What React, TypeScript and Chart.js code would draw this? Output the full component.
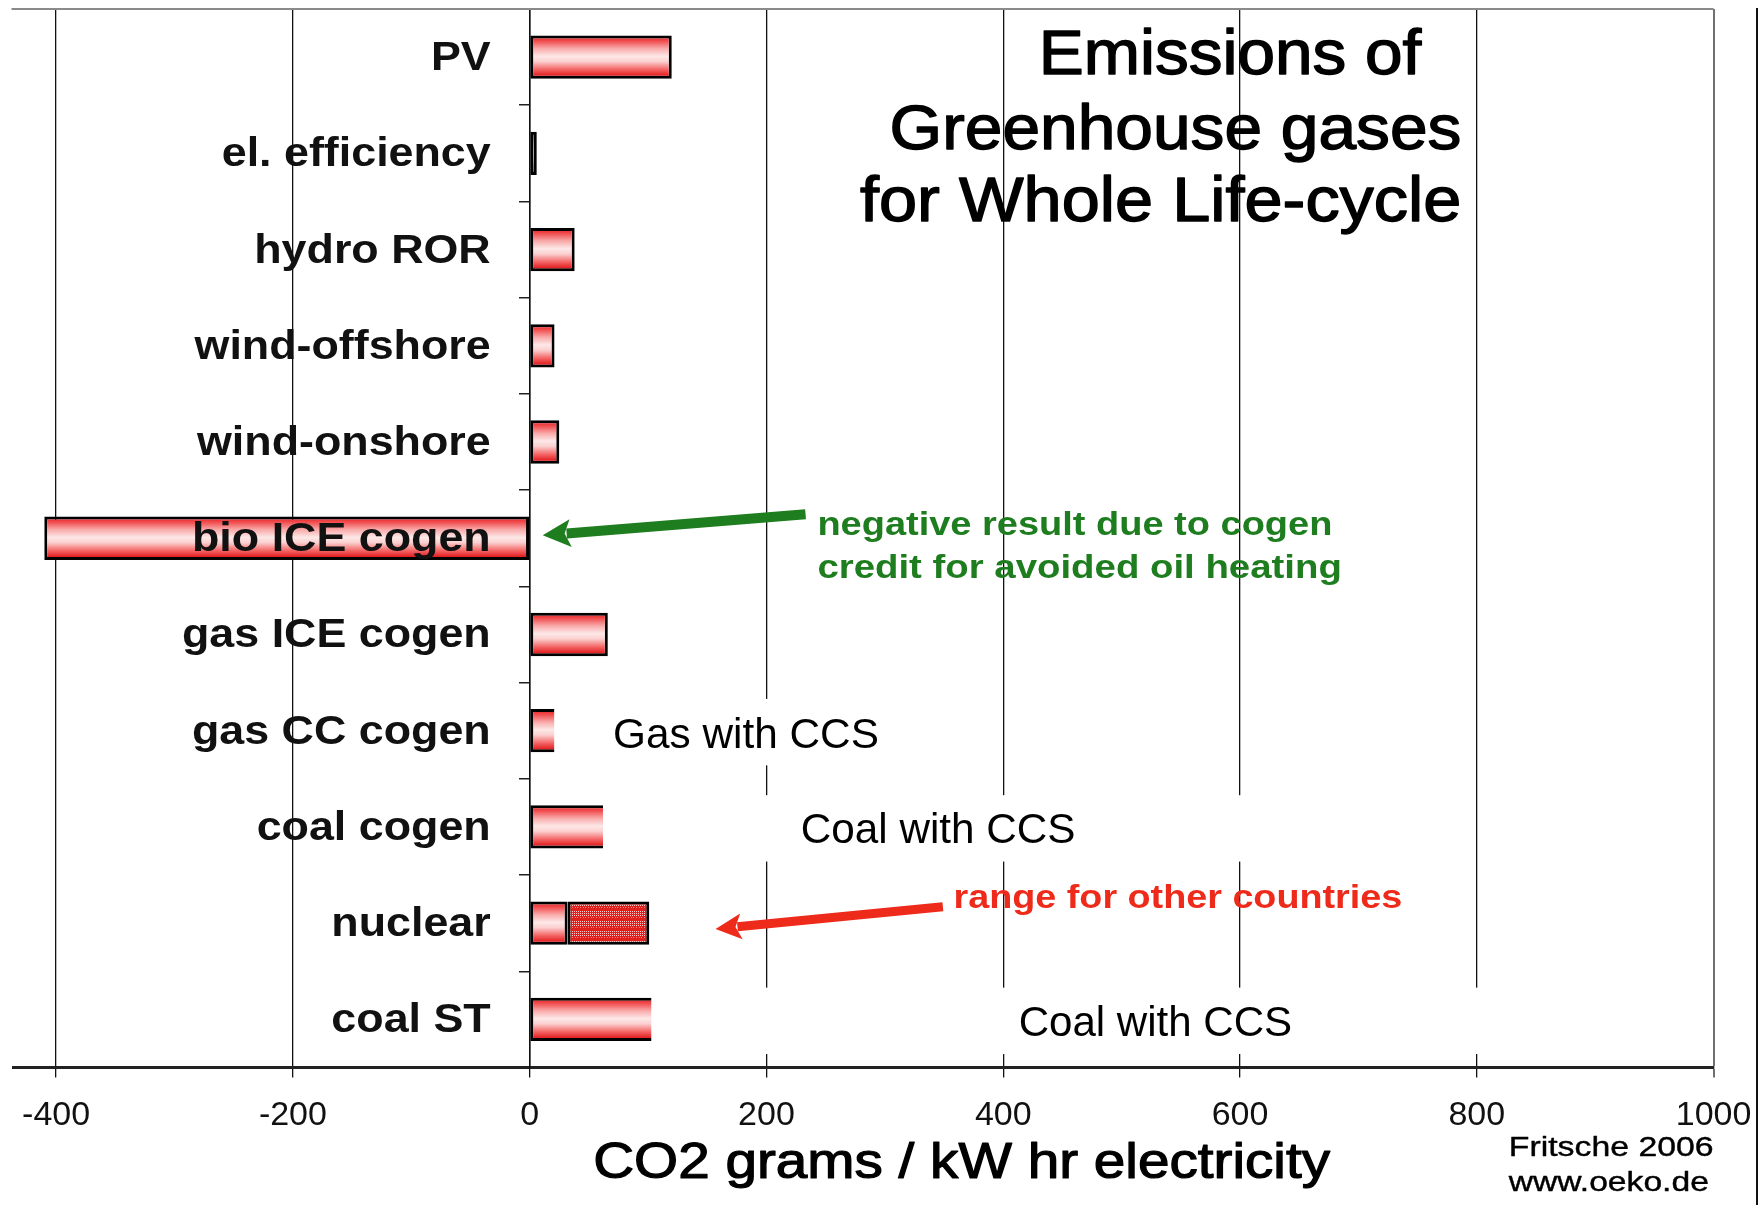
import React, { useEffect, useRef } from 'react';
import { Chart, registerables } from 'chart.js';

Chart.register(...registerables);

// ---------- data ----------
const categories = [
  'PV',
  'el. efficiency',
  'hydro ROR',
  'wind-offshore',
  'wind-onshore',
  'bio ICE cogen',
  'gas ICE cogen',
  'gas CC cogen',
  'coal cogen',
  'nuclear',
  'coal ST',
];
const emissions = [120, 6, 38, 21, 25, -410, 66, 21, 62, 32, 103];
const nuclearIndex = 9;
const nuclearRange = [32, 101];
const xTicks = [-400, -200, 0, 200, 400, 600, 800, 1000];
const xMin = -436;
const xMax = 1000;

// white "with CCS" boxes pasted over the chart
const ccsRows = [7, 8, 10];
const ccsBoxEnd = [312, 624, 960];

const FONT = "'Liberation Sans', Arial, Helvetica, sans-serif";
const BAR_PCT = 0.45;

// text notes: x1/x2 in axis units, y = category index position of baseline
const notes = [
  { text: 'Emissions of', x1: 430, x2: 753, y: 0.18, size: 63, bold: false, color: '#000', stroke: 1.4 },
  { text: 'Greenhouse gases', x1: 304, x2: 787, y: 0.956, size: 63, bold: false, color: '#000', stroke: 1.4 },
  { text: 'for Whole Life-cycle', x1: 279, x2: 787, y: 1.70, size: 63, bold: false, color: '#000', stroke: 1.4 },
  { text: 'negative result due to cogen', x1: 243, x2: 678, y: 4.97, size: 34, bold: true, color: '#1e7d1e', stroke: 0 },
  { text: 'credit for avoided oil heating', x1: 243, x2: 686, y: 5.41, size: 34, bold: true, color: '#1e7d1e', stroke: 0 },
  { text: 'range for other countries', x1: 358, x2: 737, y: 8.84, size: 34, bold: true, color: '#ee2a1b', stroke: 0 },
  { text: 'Gas with CCS', x1: 70.4, x2: 295, y: 7.18, size: 42, bold: false, color: '#000', stroke: 0 },
  { text: 'Coal with CCS', x1: 229, x2: 461, y: 8.17, size: 42, bold: false, color: '#000', stroke: 0 },
  { text: 'Coal with CCS', x1: 413, x2: 644, y: 10.17, size: 42, bold: false, color: '#000', stroke: 0 },
  { text: 'CO2 grams / kW hr electricity', x1: 53.6, x2: 676, y: 11.65, size: 50, bold: false, color: '#000', stroke: 1.2 },
  { text: 'Fritsche 2006', x1: 827, x2: 1000, y: 11.415, size: 27, bold: false, color: '#000', stroke: 0.4 },
  { text: 'www.oeko.de', x1: 827, x2: 996, y: 11.78, size: 27, bold: false, color: '#000', stroke: 0.4 },
];

const arrows = [
  { x1: 233, y1: 4.75, x2: 11, y2: 4.97, color: '#1e7d1e', width: 10, head: 28, headW: 28 },
  { x1: 349, y1: 8.83, x2: 157, y2: 9.06, color: '#ee2a1b', width: 9, head: 26, headW: 26 },
];

// ---------- helpers ----------
function fitText(ctx: CanvasRenderingContext2D, text: string, x1: number, x2: number, base: number, font: string, color: string, stroke: number) {
  ctx.save();
  ctx.font = font;
  const w = ctx.measureText(text).width;
  const s = (x2 - x1) / w;
  ctx.translate(x1, base);
  ctx.scale(s, 1);
  ctx.fillStyle = color;
  ctx.textAlign = 'left';
  ctx.textBaseline = 'alphabetic';
  ctx.fillText(text, 0, 0);
  if (stroke > 0) {
    ctx.strokeStyle = color;
    ctx.lineWidth = stroke;
    ctx.lineJoin = 'round';
    ctx.strokeText(text, 0, 0);
  }
  ctx.restore();
}

function drawArrow(ctx: CanvasRenderingContext2D, x1: number, y1: number, x2: number, y2: number, color: string, width: number, headLen: number, headW: number) {
  const ang = Math.atan2(y2 - y1, x2 - x1);
  const bx = x2 - headLen * Math.cos(ang);
  const by = y2 - headLen * Math.sin(ang);
  ctx.save();
  ctx.strokeStyle = color;
  ctx.lineWidth = width;
  ctx.lineCap = 'butt';
  ctx.beginPath();
  ctx.moveTo(x1, y1);
  ctx.lineTo(bx + 4 * Math.cos(ang), by + 4 * Math.sin(ang));
  ctx.stroke();
  ctx.fillStyle = color;
  ctx.beginPath();
  ctx.moveTo(x2, y2);
  ctx.lineTo(bx + (headW / 2) * Math.sin(ang), by - (headW / 2) * Math.cos(ang));
  ctx.lineTo(bx + 6 * Math.cos(ang), by + 6 * Math.sin(ang));
  ctx.lineTo(bx - (headW / 2) * Math.sin(ang), by + (headW / 2) * Math.cos(ang));
  ctx.closePath();
  ctx.fill();
  ctx.restore();
}

function makePattern(): CanvasPattern | string {
  const c = document.createElement('canvas');
  c.width = 8;
  c.height = 10;
  const g = c.getContext('2d');
  if (!g) return '#e33';
  g.fillStyle = '#e0201c';
  g.fillRect(0, 0, 8, 10);
  g.fillStyle = '#ffc4c4';
  for (let y = 1; y <= 5; y += 2) {
    for (let x = 0; x < 8; x += 2) g.fillRect(x, y, 1, 1);
  }
  g.fillStyle = '#f98080';
  for (let x = 1; x < 8; x += 3) g.fillRect(x, 7, 1, 1);
  const p = g.createPattern(c, 'repeat');
  return p || '#e33';
}

const barFill = (c: any) => {
  const chart = c.chart;
  const ys = chart.scales && chart.scales.y;
  if (!ys || c.dataIndex == null) return '#f77';
  const center = ys.getPixelForValue(c.dataIndex);
  const half = (Math.abs(ys.getPixelForValue(1) - ys.getPixelForValue(0)) * BAR_PCT) / 2;
  if (!isFinite(center) || !isFinite(half) || half <= 0) return '#f77';
  const g = chart.ctx.createLinearGradient(0, center - half, 0, center + half);
  g.addColorStop(0, '#e3191b');
  g.addColorStop(0.12, '#f0494b');
  g.addColorStop(0.3, '#f9a9a9');
  g.addColorStop(0.48, '#fde8e8');
  g.addColorStop(0.6, '#fbd0d0');
  g.addColorStop(0.78, '#f46868');
  g.addColorStop(0.92, '#e42224');
  g.addColorStop(1, '#d91518');
  return g;
};

const overlayPlugin = {
  id: 'overlay',
  afterDraw(chart: any) {
    const ctx: CanvasRenderingContext2D = chart.ctx;
    const xs = chart.scales.x;
    const ys = chart.scales.y;
    const area = chart.chartArea;

    // white CCS boxes
    ctx.save();
    ctx.fillStyle = '#ffffff';
    ccsRows.forEach((row, k) => {
      const x1 = xs.getPixelForValue(emissions[row]);
      const x2 = xs.getPixelForValue(ccsBoxEnd[k]);
      const y1 = ys.getPixelForValue(row - 0.33);
      const y2 = ys.getPixelForValue(row + 0.36);
      ctx.fillRect(x1, y1, x2 - x1, y2 - y1);
    });
    ctx.restore();

    // top frame line
    ctx.save();
    ctx.strokeStyle = '#8a8a8a';
    ctx.lineWidth = 2;
    ctx.beginPath();
    ctx.moveTo(area.left - 2, area.top);
    ctx.lineTo(area.right, area.top);
    ctx.stroke();
    // right edge line of the picture
    ctx.strokeStyle = '#111';
    ctx.lineWidth = 2;
    ctx.beginPath();
    ctx.moveTo(chart.width - 5, area.top - 1);
    ctx.lineTo(chart.width - 5, chart.height);
    ctx.stroke();
    ctx.restore();

    // category labels
    const x0 = xs.getPixelForValue(0);
    categories.forEach((lab, i) => {
      const y = ys.getPixelForValue(i) + 13;
      ctx.save();
      ctx.font = `bold 40px ${FONT}`;
      ctx.translate(x0 - 39, y);
      ctx.scale(1.12, 1);
      ctx.textAlign = 'right';
      ctx.textBaseline = 'alphabetic';
      ctx.fillStyle = '#111';
      ctx.fillText(lab, 0, 0);
      ctx.restore();
    });

    // arrows
    arrows.forEach((a) => {
      drawArrow(
        ctx,
        xs.getPixelForValue(a.x1),
        ys.getPixelForValue(a.y1),
        xs.getPixelForValue(a.x2),
        ys.getPixelForValue(a.y2),
        a.color,
        a.width,
        a.head,
        a.headW
      );
    });

    // texts
    notes.forEach((n) => {
      fitText(
        ctx,
        n.text,
        xs.getPixelForValue(n.x1),
        xs.getPixelForValue(n.x2),
        ys.getPixelForValue(n.y),
        `${n.bold ? 'bold ' : ''}${n.size}px ${FONT}`,
        n.color,
        n.stroke
      );
    });
  },
};

export default function App() {
  const ref = useRef<HTMLCanvasElement | null>(null);

  useEffect(() => {
    if (!ref.current) return;
    const pattern = makePattern();
    const chart = new Chart(ref.current, {
      type: 'bar',
      data: {
        labels: categories,
        datasets: [
          {
            label: 'CO2 emissions',
            data: emissions,
            backgroundColor: barFill as any,
            borderColor: '#000',
            borderWidth: 3,
            borderSkipped: ((c: any) => (ccsRows.includes(c.dataIndex) ? 'end' : false)) as any,
            barPercentage: BAR_PCT,
            categoryPercentage: 1,
            grouped: false,
            order: 2,
          } as any,
          {
            label: 'range for other countries',
            data: categories.map((_, i) => (i === nuclearIndex ? nuclearRange : null)) as any,
            backgroundColor: pattern as any,
            borderColor: '#000',
            borderWidth: 3,
            borderSkipped: false,
            barPercentage: BAR_PCT,
            categoryPercentage: 1,
            grouped: false,
            order: 1,
          } as any,
        ],
      },
      options: {
        indexAxis: 'y',
        animation: false,
        responsive: false,
        devicePixelRatio: 1,
        layout: { padding: { top: 9, left: 13.5, right: 48.4, bottom: 67.5 } },
        plugins: { legend: { display: false }, tooltip: { enabled: false } },
        scales: {
          x: {
            type: 'linear',
            min: xMin,
            max: xMax,
            afterBuildTicks: (s: any) => {
              s.ticks = xTicks.map((v) => ({ value: v }));
            },
            afterFit: (s: any) => {
              s.height = 70;
              s.paddingLeft = 0;
              s.paddingRight = 0;
            },
            grid: {
              color: (c: any) => (c.tick && c.tick.value === xMax ? '#707070' : '#111'),
              lineWidth: (c: any) => (c.tick && c.tick.value === xMax ? 2 : 1.3),
              drawTicks: true,
              tickLength: 10,
            },
            border: { display: true, color: '#222', width: 3 },
            ticks: {
              font: { family: FONT, size: 34 },
              color: '#111',
              padding: 18,
              maxRotation: 0,
              autoSkip: false,
              callback: (v: any) => String(v),
            },
          },
          y: {
            type: 'category',
            position: { x: 0 } as any,
            offset: true,
            grid: {
              drawOnChartArea: false,
              drawTicks: true,
              tickLength: 10,
              color: '#222',
              lineWidth: 1.5,
              offset: true,
            },
            border: { display: true, color: '#111', width: 1.5 },
            ticks: { display: false },
          },
        },
      } as any,
      plugins: [overlayPlugin],
    });
    return () => chart.destroy();
  }, []);

  return (
    <div style={{ position: 'absolute', left: 0, top: 0, width: 1762, height: 1205, background: '#fff' }}>
      <canvas ref={ref} width={1762} height={1205} style={{ display: 'block' }} />
    </div>
  );
}
